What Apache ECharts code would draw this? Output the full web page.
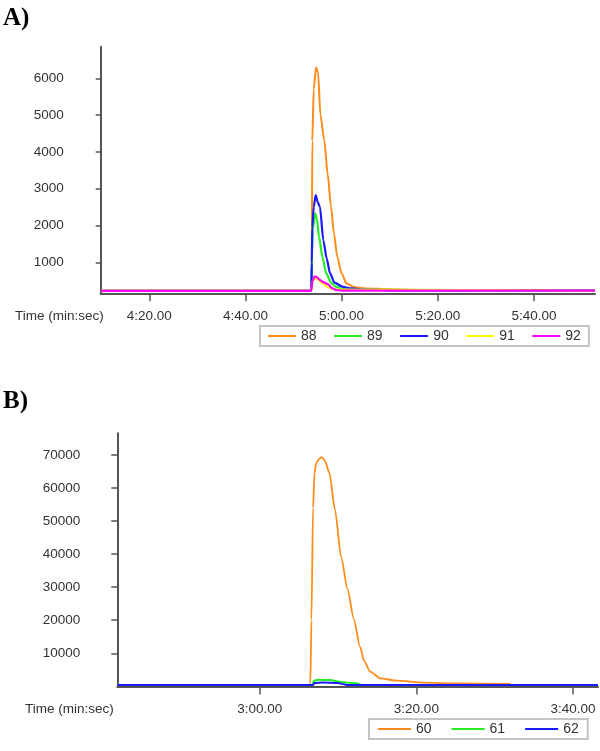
<!DOCTYPE html>
<html>
<head>
<meta charset="utf-8">
<script src="https://cdn.jsdelivr.net/npm/echarts@6/dist/echarts.min.js"></script>
<style>
html,body{margin:0;padding:0;background:#fff;}
#c{width:600px;height:751px;}
</style>
</head>
<body>
<div id="c"></div>
<script>
// ---- Panel A data (time in seconds, intensity) ----
const tA88 = [250, 293.7, 293.8, 293.9, 294.2, 294.7, 295.1, 295.6, 296.4, 297.1, 297.8, 298.4, 299.1, 300.0, 301.0, 302.5, 305, 310, 314, 320, 330, 352.7];
const vA88 = [225, 225, 700, 4300, 5700, 6300, 6150, 5000, 4320, 3400, 2510, 1800, 1150, 700, 430, 330, 290, 270, 255, 240, 232, 228];
const tA89 = [250, 293.7, 293.85, 294.0, 294.5, 294.9, 295.3, 296.0, 296.8, 297.8, 298.8, 300, 303, 352.7];
const vA89 = [225, 225, 1200, 1900, 2330, 2150, 1700, 1150, 700, 450, 337, 280, 250, 228];
const tA90 = [250, 293.7, 293.8, 293.9, 294.2, 294.6, 295.0, 295.5, 296.2, 296.9, 297.6, 298.5, 300.3, 302, 305, 310, 352.7];
const vA90 = [225, 225, 1000, 1950, 2500, 2830, 2650, 2500, 1600, 1100, 700, 450, 330, 290, 260, 240, 228];
const tA91 = [250, 293.7, 293.9, 294.4, 295.0, 296.0, 297.0, 298.5, 352.7];
const vA91 = [225, 225, 450, 560, 540, 430, 330, 260, 228];
const tA92 = [250, 293.7, 293.9, 294.4, 294.8, 295.5, 296.2, 297.2, 298.0, 298.8, 300, 352.7];
const vA92 = [225, 225, 480, 620, 600, 520, 460, 400, 300, 250, 232, 228];

// ---- Panel B data ----
const tB60 = [161.8, 186.45, 186.6, 186.8, 187.0, 187.2, 187.6, 187.9, 188.3, 188.9, 189.6, 190.4, 191.2, 192.0, 192.8, 193.3, 194.1, 195.4, 197.5, 200.9, 205, 212.0];
const vB60 = [400, 400, 20000, 54000, 64500, 67500, 68800, 69300, 68300, 64500, 53400, 39000, 29500, 20500, 12000, 7800, 4450, 2450, 1720, 1120, 900, 730];
const tB61 = [161.8, 186.7, 186.9, 187.5, 189, 190, 191, 192.5, 193, 223.2];
const vB61 = [400, 400, 1700, 2000, 1900, 1500, 1200, 900, 400, 400];
const tB62 = [161.8, 186.8, 187.0, 188, 190, 190.8, 191.2, 223.2];
const vB62 = [400, 400, 1000, 1150, 1050, 600, 400, 400];

// ---- tick labels ----
const xTicksA = [260, 280, 300, 320, 340];
const yTicksA = [1000, 2000, 3000, 4000, 5000, 6000];
const xTicksB = [180, 200, 220];
const yTicksB = [10000, 20000, 30000, 40000, 50000, 60000, 70000];
const legendA = ['88', '89', '90', '91', '92'];
const legendB = ['60', '61', '62'];

const colors = {
  '88': '#ff8c1a', '89': '#22ee22', '90': '#1a1aff', '91': '#ffff00', '92': '#ff00ff',
  '60': '#ff8c1a', '61': '#22ee22', '62': '#1a1aff'
};

function pairs(t, v) { return t.map((x, i) => [x, v[i]]); }
function fmtTime(v) {
  const m = Math.floor(v / 60);
  const s = Math.round(v - m * 60);
  return m + ':' + (s < 10 ? '0' : '') + s + '.00';
}

const FONT = 'Liberation Sans';
const axisCol = '#555';

function xAxis(gi, min, max, ticks) {
  return {
    type: 'value', gridIndex: gi, min: min, max: max,
    axisLine: { onZero: false, lineStyle: { color: axisCol, width: 2 } },
    axisTick: { show: true, customValues: ticks, length: 8, lineStyle: { color: axisCol, width: 1.5 } },
    axisLabel: { customValues: ticks, formatter: fmtTime, margin: 16, color: '#333', fontFamily: FONT, fontSize: 13.5 },
    splitLine: { show: false }
  };
}
function yAxis(gi, min, max, ticks, tickLen) {
  return {
    type: 'value', gridIndex: gi, min: min, max: max,
    axisLine: { show: true, onZero: false, lineStyle: { color: axisCol, width: 2 } },
    axisTick: { show: true, customValues: ticks, length: tickLen, lineStyle: { color: axisCol, width: 1.5 } },
    axisLabel: { customValues: ticks, formatter: v => String(v), margin: 37, color: '#333', fontFamily: FONT, fontSize: 13.5 },
    splitLine: { show: false }
  };
}
function lineSeries(name, xi, t, v, w) {
  return {
    name: name, type: 'line', xAxisIndex: xi, yAxisIndex: xi,
    data: pairs(t, v), showSymbol: false, symbol: 'none',
    smooth: 0.25, smoothMonotone: 'x',
    lineStyle: { color: colors[name], width: w },
    itemStyle: { color: colors[name] },
    animation: false
  };
}

const chart = echarts.init(document.getElementById('c'), null, { renderer: 'canvas' });
chart.setOption({
  animation: false,
  backgroundColor: '#fff',
  grid: [
    { left: 100.7, top: 46.7, width: 494.3, height: 246.6 },
    { left: 117.3, top: 433.3, width: 480.7, height: 253.1 }
  ],
  xAxis: [xAxis(0, 249.9, 352.7, xTicksA), xAxis(1, 161.8, 223.2, xTicksB)],
  yAxis: [yAxis(0, 158, 6860, yTicksA, 5), yAxis(1, 0, 76500, yTicksB, 6)],
  legend: [
    {
      data: legendA, left: 260, top: 326, icon: 'rect', itemWidth: 28, itemHeight: 2, itemGap: 17.5,
      padding: [3, 8], borderColor: '#c4c4c4', borderWidth: 2, backgroundColor: '#fff',
      textStyle: { fontFamily: FONT, fontSize: 14, color: '#333' }, selectedMode: false
    },
    {
      data: legendB, left: 369, top: 719, icon: 'rect', itemWidth: 33, itemHeight: 2, itemGap: 20,
      padding: [3, 9], borderColor: '#c4c4c4', borderWidth: 2, backgroundColor: '#fff',
      textStyle: { fontFamily: FONT, fontSize: 14, color: '#333' }, selectedMode: false
    }
  ],
  graphic: [
    { type: 'text', left: 3, top: 6, style: { text: 'A)', font: 'bold 25px "Liberation Serif"', fill: '#000' } },
    { type: 'text', left: 3, top: 389, style: { text: 'B)', font: 'bold 25px "Liberation Serif"', fill: '#000' } },
    { type: 'text', left: 15, top: 309, style: { text: 'Time (min:sec)', font: '13.5px "Liberation Sans"', fill: '#333' } },
    { type: 'text', left: 25, top: 702, style: { text: 'Time (min:sec)', font: '13.5px "Liberation Sans"', fill: '#333' } }
  ],
  series: [
    lineSeries('88', 0, tA88, vA88, 2),
    lineSeries('89', 0, tA89, vA89, 2.2),
    lineSeries('90', 0, tA90, vA90, 2.2),
    lineSeries('91', 0, tA91, vA91, 2),
    lineSeries('92', 0, tA92, vA92, 2.2),
    lineSeries('60', 1, tB60, vB60, 1.8),
    lineSeries('61', 1, tB61, vB61, 2),
    lineSeries('62', 1, tB62, vB62, 2)
  ]
});
</script>
</body>
</html>
